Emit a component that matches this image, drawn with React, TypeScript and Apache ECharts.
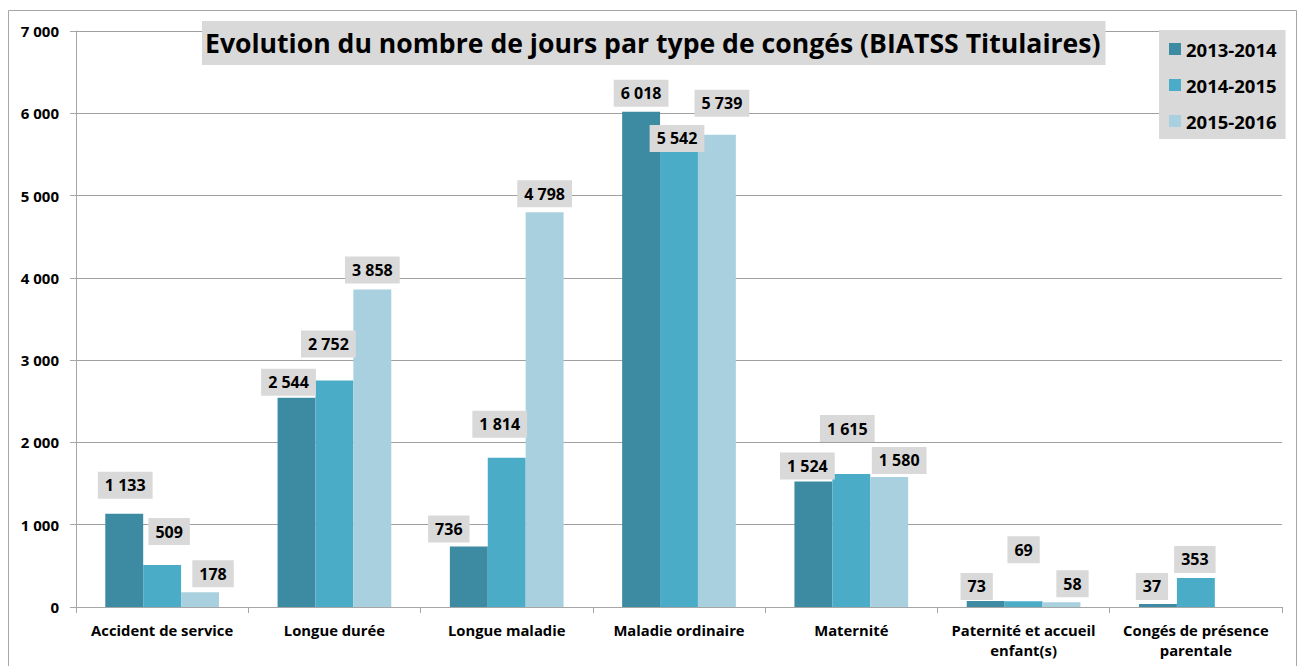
import React, { useEffect, useRef } from "react";
import * as echarts from "echarts";

const categories = [
  "Accident de service",
  "Longue durée",
  "Longue maladie",
  "Maladie ordinaire",
  "Maternité",
  "Paternité et accueil enfant(s)",
  "Congés de présence parentale",
];
const seriesNames = ["2013-2014", "2014-2015", "2015-2016"];
const values2013 = [1133, 2544, 736, 6018, 1524, 73, 37];
const values2014 = [509, 2752, 1814, 5542, 1615, 69, 353];
const values2015: (number | null)[] = [178, 3858, 4798, 5739, 1580, 58, null];
const yTicks = { min: 0, max: 7000, interval: 1000 };

// manual label nudges (Excel-style placement), [dx, dy] in px
const labelNudge2013 = [[1, -10], [-8, 3], [-20, 1], [0, 0], [-6, 3], [-9, 4], [-6, 1]];
const labelNudge2014 = [[7, -15], [-6, -18], [-7, -15], [-2, 6], [-4, -27], [0, -33], [-1, 0]];
const labelNudge2015 = [[13, 0], [0, -1], [0, 0], [5, -13], [10, 2], [11, 0], [0, 0]];

const colors = ["#3c8ba3", "#4aacc6", "#a9d0de"];
const FONT = "'Open Sans', 'Noto Sans', sans-serif";

const fmt = (v: number) => String(v).replace(/\B(?=(\d{3})+(?!\d))/g, " ");

const wrap = (s: string, max: number) => {
  const words = s.split(" ");
  const lines: string[] = [];
  let cur = "";
  for (const w of words) {
    const t = cur ? cur + " " + w : w;
    if (t.length > max && cur) {
      lines.push(cur);
      cur = w;
    } else cur = t;
  }
  if (cur) lines.push(cur);
  return lines.join("\n");
};

export default function App() {
  const ref = useRef<HTMLDivElement>(null);
  useEffect(() => {
    if (!ref.current) return;
    const chart = echarts.init(ref.current, null, { renderer: "svg" });
    const mk = (vals: (number | null)[], nudges: number[][]) =>
      vals.map((v, i) => ({
        value: v,
        label: { offset: nudges[i] },
      }));
    const labelStyle = {
      show: true,
      position: "top",
      distance: 5,
      formatter: (p: any) => (p.value == null ? "" : fmt(p.value)),
      backgroundColor: "#d9d9d9",
      padding: [5, 7],
      color: "#000",
      fontFamily: FONT,
      fontWeight: "bold",
      fontSize: 16,
      lineHeight: 17,
    };
    const seriesData = [
      mk(values2013, labelNudge2013),
      mk(values2014, labelNudge2014),
      mk(values2015, labelNudge2015),
    ];
    chart.setOption({
      animation: false,
      backgroundColor: "#fff",
      title: {
        text: "Evolution du nombre de jours par type de congés (BIATSS Titulaires)",
        left: 202,
        top: 21,
        padding: [6, 5, 6, 3],
        backgroundColor: "#d9d9d9",
        textStyle: {
          fontFamily: FONT,
          fontWeight: "bold",
          fontSize: 26.6,
          lineHeight: 32,
          color: "#000",
        },
      },
      legend: {
        orient: "vertical",
        left: 1159,
        top: 30,
        backgroundColor: "#d9d9d9",
        padding: [9, 9, 8, 10],
        itemWidth: 12,
        itemHeight: 12,
        itemGap: 16,
        icon: "rect",
        textStyle: {
          fontFamily: FONT,
          fontWeight: "bold",
          fontSize: 18.5,
          lineHeight: 20,
          color: "#000",
        },
        data: seriesNames,
      },
      grid: {
        left: 76,
        right: 20,
        top: 31,
        bottom: 59,
        containLabel: false,
        outerBoundsMode: "none",
      },
      xAxis: {
        type: "category",
        data: categories,
        axisLine: { show: true, lineStyle: { color: "#a6a6a6", width: 1 } },
        axisTick: { show: true, length: 6, lineStyle: { color: "#a6a6a6" } },
        axisLabel: {
          interval: 0,
          margin: 13,
          color: "#000",
          fontFamily: FONT,
          fontWeight: "bold",
          fontSize: 14.8,
          lineHeight: 20,
          formatter: (v: string) => wrap(v, 20),
        },
      },
      yAxis: {
        type: "value",
        min: yTicks.min,
        max: yTicks.max,
        interval: yTicks.interval,
        axisLine: { show: true, lineStyle: { color: "#a6a6a6", width: 1 } },
        axisTick: { show: true, length: 6, lineStyle: { color: "#a6a6a6" } },
        splitLine: { show: true, lineStyle: { color: "#a0a0a0", width: 1 } },
        axisLabel: {
          margin: 17,
          color: "#000",
          fontFamily: FONT,
          fontWeight: "bold",
          fontSize: 15,
          formatter: (v: number) => fmt(v),
        },
      },
      series: seriesNames.map((name, i) => ({
        name,
        type: "bar",
        data: seriesData[i],
        barGap: "0%",
        barCategoryGap: "34%",
        itemStyle: { color: colors[i] },
        label: labelStyle,
      })),
      graphic: [
        {
          type: "rect",
          silent: true,
          shape: { x: 8.5, y: 10.5, width: 1288, height: 700 },
          style: { fill: "none", stroke: "#a6a6a6", lineWidth: 1 },
          z: 100,
        },
      ],
    });
    return () => chart.dispose();
  }, []);
  return (
    <div
      ref={ref}
      style={{ position: "absolute", left: 0, top: 0, width: 1302, height: 666 }}
    />
  );
}
